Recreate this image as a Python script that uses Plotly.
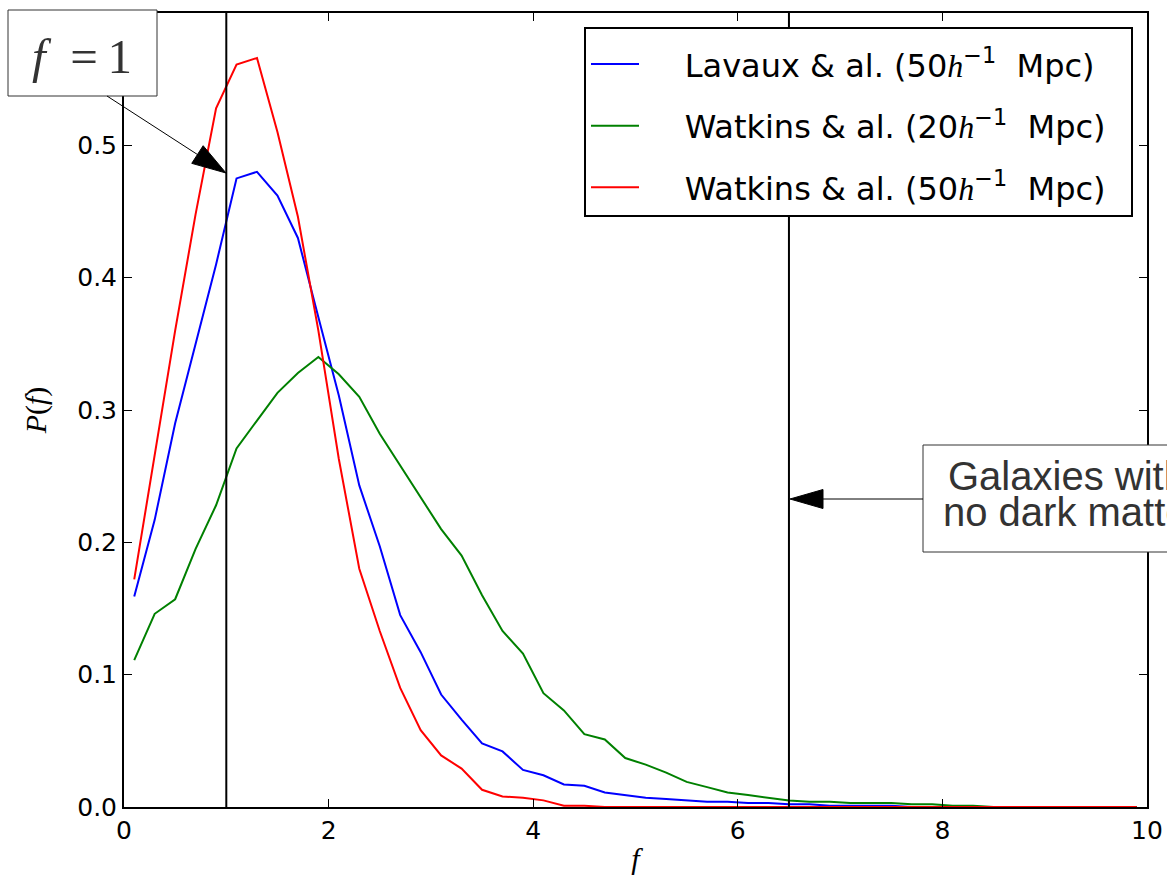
import math
import plotly.graph_objects as go

# ---------------- data ----------------
F = [0.1, 0.3, 0.5, 0.7, 0.9, 1.1, 1.3, 1.5, 1.7, 1.9,
     2.1, 2.3, 2.5, 2.7, 2.9, 3.1, 3.3, 3.5, 3.7, 3.9,
     4.1, 4.3, 4.5, 4.7, 4.9, 5.1, 5.3, 5.5, 5.7, 5.9,
     6.1, 6.3, 6.5, 6.7, 6.9, 7.1, 7.3, 7.5, 7.7, 7.9,
     8.1, 8.3, 8.5, 8.7, 8.9, 9.1, 9.3, 9.5, 9.7, 9.9]

LAVAUX_50 = [0.159, 0.217, 0.290, 0.350, 0.410, 0.475, 0.480, 0.462, 0.430, 0.370,
             0.311, 0.243, 0.197, 0.145, 0.117, 0.085, 0.066, 0.048, 0.042, 0.028,
             0.024, 0.017, 0.016, 0.011, 0.009, 0.007, 0.006, 0.005, 0.004, 0.004,
             0.003, 0.003, 0.002, 0.002, 0.001, 0.001, 0.001, 0.001, 0.000, 0.000,
             0.000, 0.000, 0.000, 0.000, 0.000, 0.000, 0.000, 0.000, 0.000, 0.000]

WATKINS_20 = [0.111, 0.146, 0.157, 0.195, 0.228, 0.271, 0.292, 0.313, 0.328, 0.340,
              0.327, 0.310, 0.282, 0.258, 0.234, 0.210, 0.190, 0.160, 0.133, 0.116,
              0.086, 0.073, 0.055, 0.051, 0.037, 0.032, 0.026, 0.019, 0.015, 0.011,
              0.009, 0.007, 0.005, 0.004, 0.004, 0.003, 0.003, 0.003, 0.002, 0.002,
              0.001, 0.001, 0.000, 0.000, 0.000, 0.000, 0.000, 0.000, 0.000, 0.000]

WATKINS_50 = [0.172, 0.265, 0.360, 0.448, 0.528, 0.561, 0.566, 0.510, 0.446, 0.360,
              0.263, 0.180, 0.133, 0.090, 0.058, 0.039, 0.029, 0.013, 0.008, 0.007,
              0.005, 0.001, 0.001, 0.000, 0.000, 0.000, 0.000, 0.000, 0.000, 0.000,
              0.000, 0.000, 0.000, 0.000, 0.000, 0.000, 0.000, 0.000, 0.000, 0.000,
              0.000, 0.000, 0.000, 0.000, 0.000, 0.000, 0.000, 0.000, 0.000, 0.000]

H_MATH = '<span style="font-family:Liberation Serif"><i>h</i></span><sup>\u22121</sup>'
SERIES_NAMES = [
    "Lavaux & al. (50" + H_MATH + "  Mpc)",
    "Watkins & al. (20" + H_MATH + "  Mpc)",
    "Watkins & al. (50" + H_MATH + "  Mpc)",
]
SERIES_COLORS = ["#0000ff", "#008000", "#ff0000"]

REF_LINES_F = [1.0, 6.5]
X_TICKS = [0, 2, 4, 6, 8, 10]
Y_TICKS = [0.0, 0.1, 0.2, 0.3, 0.4, 0.5]

# ---------------- layout geometry ----------------
W, H = 1167, 875
ML, MR, MT, MB = 124, 20, 13, 68
PW, PH = W - ML - MR, H - MT - MB


def px(X):
    return (X - ML) / PW


def py(Y):
    return (H - MB - Y) / PH


fig = go.Figure()
for name, vals, col in zip(SERIES_NAMES, [LAVAUX_50, WATKINS_20, WATKINS_50], SERIES_COLORS):
    fig.add_trace(go.Scatter(x=F, y=vals, mode="lines",
                             name="\u00a0" * 4 + name + "\u00a0" * 2,
                             legendgroup=name, line=dict(color=col, width=2)))

shapes = []
for f0 in REF_LINES_F:
    shapes.append(dict(type="line", xref="x", yref="paper", x0=f0, x1=f0, y0=0, y1=1,
                       line=dict(color="black", width=2), layer="above"))


def arrow(tail, tip, hlen, hwid):
    (x0, y0), (x1, y1) = tail, tip
    d = math.hypot(x1 - x0, y1 - y0)
    ux, uy = (x1 - x0) / d, (y1 - y0) / d
    bx, by = x1 - ux * hlen, y1 - uy * hlen
    nx, ny = -uy, ux
    out = [dict(type="line", xref="paper", yref="paper",
                x0=px(x0), y0=py(y0), x1=px(bx), y1=py(by),
                line=dict(color="black", width=1), layer="above")]
    p1 = (bx + nx * hwid / 2, by + ny * hwid / 2)
    p2 = (bx - nx * hwid / 2, by - ny * hwid / 2)
    path = "M{},{} L{},{} L{},{} Z".format(px(x1), py(y1), px(p1[0]), py(p1[1]),
                                          px(p2[0]), py(p2[1]))
    out.append(dict(type="path", xref="paper", yref="paper", path=path,
                    fillcolor="black", line=dict(color="black", width=1), layer="above"))
    return out


# f = 1 box
shapes.append(dict(type="rect", xref="paper", yref="paper",
                   x0=px(8), x1=px(157), y0=py(96), y1=py(10),
                   line=dict(color="#333333", width=1), fillcolor="white", layer="above"))
shapes += arrow((107, 96), (226, 173), 34, 21)

# galaxies box (runs off the right edge of the picture)
shapes.append(dict(type="rect", xref="paper", yref="paper",
                   x0=px(923), x1=px(1169), y0=py(552), y1=py(445),
                   line=dict(color="#333333", width=1), fillcolor="white", layer="above"))
shapes += arrow((923, 499), (790, 499), 33, 19)

annotations = [
    dict(xref="paper", yref="paper", x=px(82), y=py(56), xanchor="center", yanchor="middle",
         text="<i>f</i>\u2002=\u20091", showarrow=False,
         font=dict(family="Liberation Serif", size=49, color="#333333")),
    dict(xref="paper", yref="paper", x=px(946), y=py(476), xanchor="left", yanchor="middle",
         text="Galaxies with", showarrow=False,
         font=dict(family="Liberation Sans", size=40, color="#333333")),
    dict(xref="paper", yref="paper", x=px(941), y=py(512), xanchor="left", yanchor="middle",
         text="no dark matter", showarrow=False,
         font=dict(family="Liberation Sans", size=40, color="#333333")),
]

axis_common = dict(showline=True, linecolor="black", linewidth=2, mirror="ticks",
                   ticks="inside", ticklen=8, tickwidth=1, tickcolor="black",
                   showgrid=False, zeroline=False, automargin=False,
                   tickfont=dict(family="DejaVu Sans", size=25, color="black"))

fig.update_layout(
    width=W, height=H,
    margin=dict(l=ML, r=MR, t=MT, b=MB, autoexpand=False),
    paper_bgcolor="white", plot_bgcolor="white",
    xaxis=dict(range=[0, 10], tickvals=X_TICKS, ticktext=[str(v) for v in X_TICKS],
               title=dict(text="<i>f</i>", standoff=12,
                          font=dict(family="Liberation Serif", size=30, color="black")),
               **axis_common),
    yaxis=dict(range=[0, 0.6], tickvals=Y_TICKS, ticktext=["%.1f" % v for v in Y_TICKS],
               title=dict(text="<i>P</i>(<i>f</i>)", standoff=22,
                          font=dict(family="Liberation Serif", size=30, color="black")),
               **axis_common),
    legend=dict(x=px(1133), y=py(27), xanchor="right", yanchor="top",
                bgcolor="white", bordercolor="black", borderwidth=2,
                traceorder="grouped", tracegroupgap=17, itemwidth=48,
                title=dict(text="\u00a0", font=dict(size=6)),
                font=dict(family="DejaVu Sans", size=32, color="black")),
    shapes=shapes,
    annotations=annotations,
    showlegend=True,
)

fig.write_html("out.html")
